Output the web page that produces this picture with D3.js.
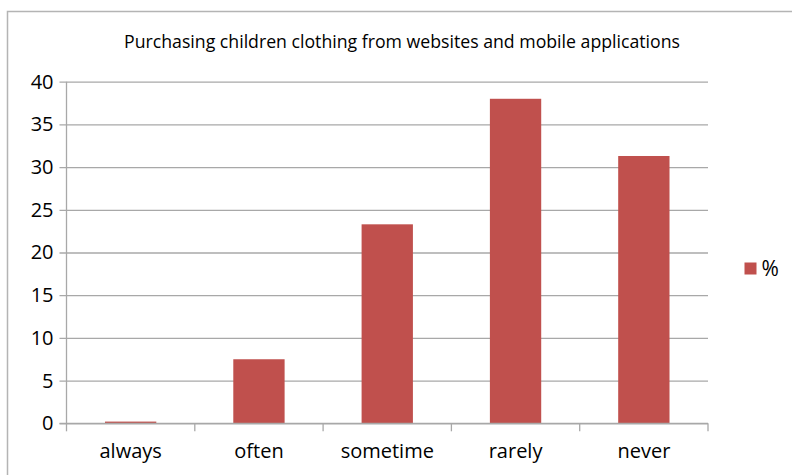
<!DOCTYPE html>
<html>
<head>
<meta charset="utf-8">
<script src="https://cdn.jsdelivr.net/npm/d3@7"></script>
<style>
  html, body { margin: 0; padding: 0; background: #fff; }
  svg { display: block; }
  text { font-family: "Open Sans", "Noto Sans", sans-serif; fill: #000; }
</style>
</head>
<body>
<svg id="chart" width="792" height="475"></svg>
<script>
// Survey answers: how often children's clothing is bought online
const categories = ["always", "often", "sometime", "rarely", "never"];
const percentValues = [0.2, 7.5, 23.3, 38.0, 31.3];
const yTickValues = [0, 5, 10, 15, 20, 25, 30, 35, 40];
const seriesName = "%";
const chartTitle = "Purchasing children clothing from websites and mobile applications";

const W = 792, H = 475;
const plot = { left: 66.5, right: 708, top: 81.7, bottom: 423.3 };
const gridColor = "#a8a8a8";
const barColor = "#c0504d";

const svg = d3.select("#chart");

// outer chart frame (runs off the right and bottom edges)
svg.append("rect")
  .attr("x", 7.5).attr("y", 11.5)
  .attr("width", W + 20).attr("height", H + 20)
  .attr("fill", "none")
  .attr("stroke", "#b4b4b4")
  .attr("stroke-width", 1.5);

// title
svg.append("text")
  .attr("x", 402).attr("y", 48)
  .attr("text-anchor", "middle")
  .style("font-size", "17.7px")
  .text(chartTitle);

const x = d3.scaleBand()
  .domain(categories)
  .range([plot.left, plot.right])
  .paddingInner(0.6)
  .paddingOuter(0.3);

const y = d3.scaleLinear()
  .domain([0, 40])
  .range([plot.bottom, plot.top]);

// horizontal gridlines + y tick labels
const yAxis = d3.axisLeft(y)
  .tickValues(yTickValues)
  .tickSize(-(plot.right - plot.left))
  .tickPadding(13)
  .tickFormat(d3.format("d"));

const gy = svg.append("g")
  .attr("transform", `translate(${plot.left},0)`)
  .call(yAxis);
gy.select(".domain").remove();
gy.selectAll(".tick line")
  .attr("x1", -7)
  .attr("stroke", gridColor)
  .attr("stroke-width", 1.3);
gy.selectAll(".tick text")
  .style("font-size", "20px")
  .attr("fill", "#000");

// vertical value axis line
svg.append("line")
  .attr("x1", plot.left).attr("x2", plot.left)
  .attr("y1", plot.top).attr("y2", plot.bottom)
  .attr("stroke", gridColor)
  .attr("stroke-width", 1.3);

// bars
svg.append("g")
  .selectAll("rect")
  .data(categories.map((c, i) => ({ c, v: percentValues[i] })))
  .join("rect")
  .attr("x", d => x(d.c))
  .attr("y", d => y(d.v))
  .attr("width", x.bandwidth())
  .attr("height", d => y(0) - y(d.v))
  .attr("fill", barColor);

// category axis: baseline, boundary ticks, labels
const xAxis = d3.axisBottom(x).tickSize(0).tickPadding(21);
const gx = svg.append("g")
  .attr("transform", `translate(0,${plot.bottom})`)
  .call(xAxis);
gx.select(".domain").remove();
gx.selectAll(".tick text")
  .style("font-size", "20px")
  .attr("fill", "#000");

svg.append("line")
  .attr("x1", plot.left - 7).attr("x2", plot.right)
  .attr("y1", plot.bottom).attr("y2", plot.bottom)
  .attr("stroke", gridColor)
  .attr("stroke-width", 1.3);

const boundaries = d3.range(categories.length + 1)
  .map(i => plot.left + i * x.step());
svg.append("g")
  .selectAll("line")
  .data(boundaries)
  .join("line")
  .attr("x1", d => d).attr("x2", d => d)
  .attr("y1", plot.bottom).attr("y2", plot.bottom + 8)
  .attr("stroke", gridColor)
  .attr("stroke-width", 1.3);

// legend
const legend = svg.append("g").attr("transform", "translate(744.5,262.5)");
legend.append("rect")
  .attr("width", 12).attr("height", 12)
  .attr("fill", barColor);
legend.append("text")
  .attr("x", 17).attr("y", 6)
  .attr("dy", "0.35em")
  .style("font-size", "21px")
  .text(seriesName);
</script>
</body>
</html>
